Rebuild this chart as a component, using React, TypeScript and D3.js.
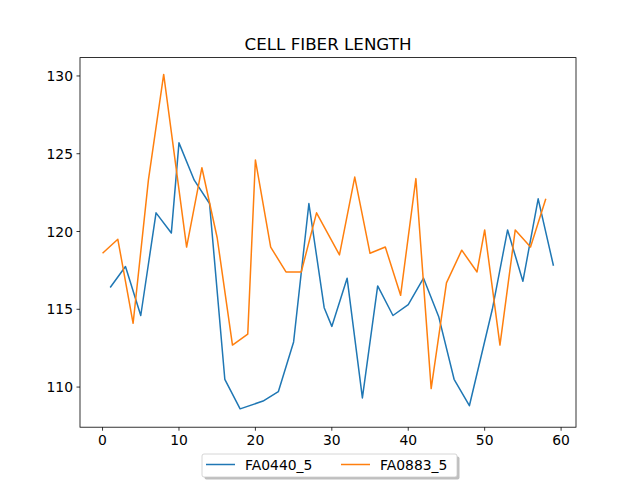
import React from "react";
import * as d3 from "d3";

const blueX = [1,3,5,7,9,10,12,14,16,18,21,23,25,27,29,30,32,34,36,38,40,42,44,46,48,51,53,55,57,59];
const blueY = [116.4,117.75,114.6,121.2,119.9,125.7,123.3,121.8,110.5,108.6,109.1,109.7,112.9,121.8,115.1,113.9,117.0,109.3,116.5,114.6,115.3,117.0,114.5,110.5,108.8,115.0,120.1,116.8,122.1,117.8];
const orangeX = [0,2,4,6,8,11,13,15,17,19,20,22,24,26,28,31,33,35,37,39,41,43,45,47,49,50,52,54,56,58];
const orangeY = [118.6,119.5,114.1,123.3,130.1,119.0,124.1,119.6,112.7,113.4,124.6,119.0,117.4,117.4,121.2,118.5,123.5,118.6,119.0,115.9,123.4,109.9,116.7,118.8,117.4,120.1,112.7,120.1,119.0,122.1];
const xTicks = [0,10,20,30,40,50,60];
const yTicks = [110,115,120,125,130];
const seriesNames = ["FA0440_5","FA0883_5"];
const colors = ["#1f77b4","#ff7f0e"];

export default function App() {
  const L = 80, R = 576, T = 57.6, B = 427.2;
  const x = d3.scaleLinear().domain([-2.95, 61.95]).range([L, R]);
  const y = d3.scaleLinear().domain([107.42, 131.18]).range([B, T]);
  const line = d3.line<[number, number]>().x(d => x(d[0])).y(d => y(d[1]));
  const s1 = line(blueX.map((v, i) => [v, blueY[i]] as [number, number]))!;
  const s2 = line(orangeX.map((v, i) => [v, orangeY[i]] as [number, number]))!;
  const font = "DejaVu Sans";
  return (
    <svg width={640} height={480} style={{ position: "absolute", left: 0, top: 0 }} fontFamily={font}>
      <rect width={640} height={480} fill="white" />
      <text x={(L + R) / 2} y={50} textAnchor="middle" fontSize={16.7}>CELL FIBER LENGTH</text>
      <path d={s1} fill="none" stroke={colors[0]} strokeWidth={1.5} strokeLinejoin="round" />
      <path d={s2} fill="none" stroke={colors[1]} strokeWidth={1.5} strokeLinejoin="round" />
      <rect x={L} y={T} width={R - L} height={B - T} fill="none" stroke="black" strokeWidth={0.8} />
      {xTicks.map(t => (
        <g key={t}>
          <line x1={x(t)} x2={x(t)} y1={B} y2={B + 3.5} stroke="black" strokeWidth={0.8} />
          <text x={x(t)} y={B + 18} textAnchor="middle" fontSize={13.9}>{t}</text>
        </g>
      ))}
      {yTicks.map(t => (
        <g key={t}>
          <line x1={L - 3.5} x2={L} y1={y(t)} y2={y(t)} stroke="black" strokeWidth={0.8} />
          <text x={L - 7} y={y(t) + 5} textAnchor="end" fontSize={13.9}>{t}</text>
        </g>
      ))}
      <rect x={204.5} y={456.5} width={255} height={23} rx={2} fill="#808080" opacity={0.5} />
      <rect x={202} y={454} width={255} height={23} rx={2} fill="white" stroke="#cccccc" strokeWidth={0.8} />
      {seriesNames.map((n, i) => (
        <g key={n} transform={`translate(${i === 0 ? 206 : 341},464.5)`}>
          <line x1={0} x2={29} y1={0} y2={0} stroke={colors[i]} strokeWidth={1.5} />
          <text x={39} y={5} fontSize={13.9}>{n}</text>
        </g>
      ))}
    </svg>
  );
}
